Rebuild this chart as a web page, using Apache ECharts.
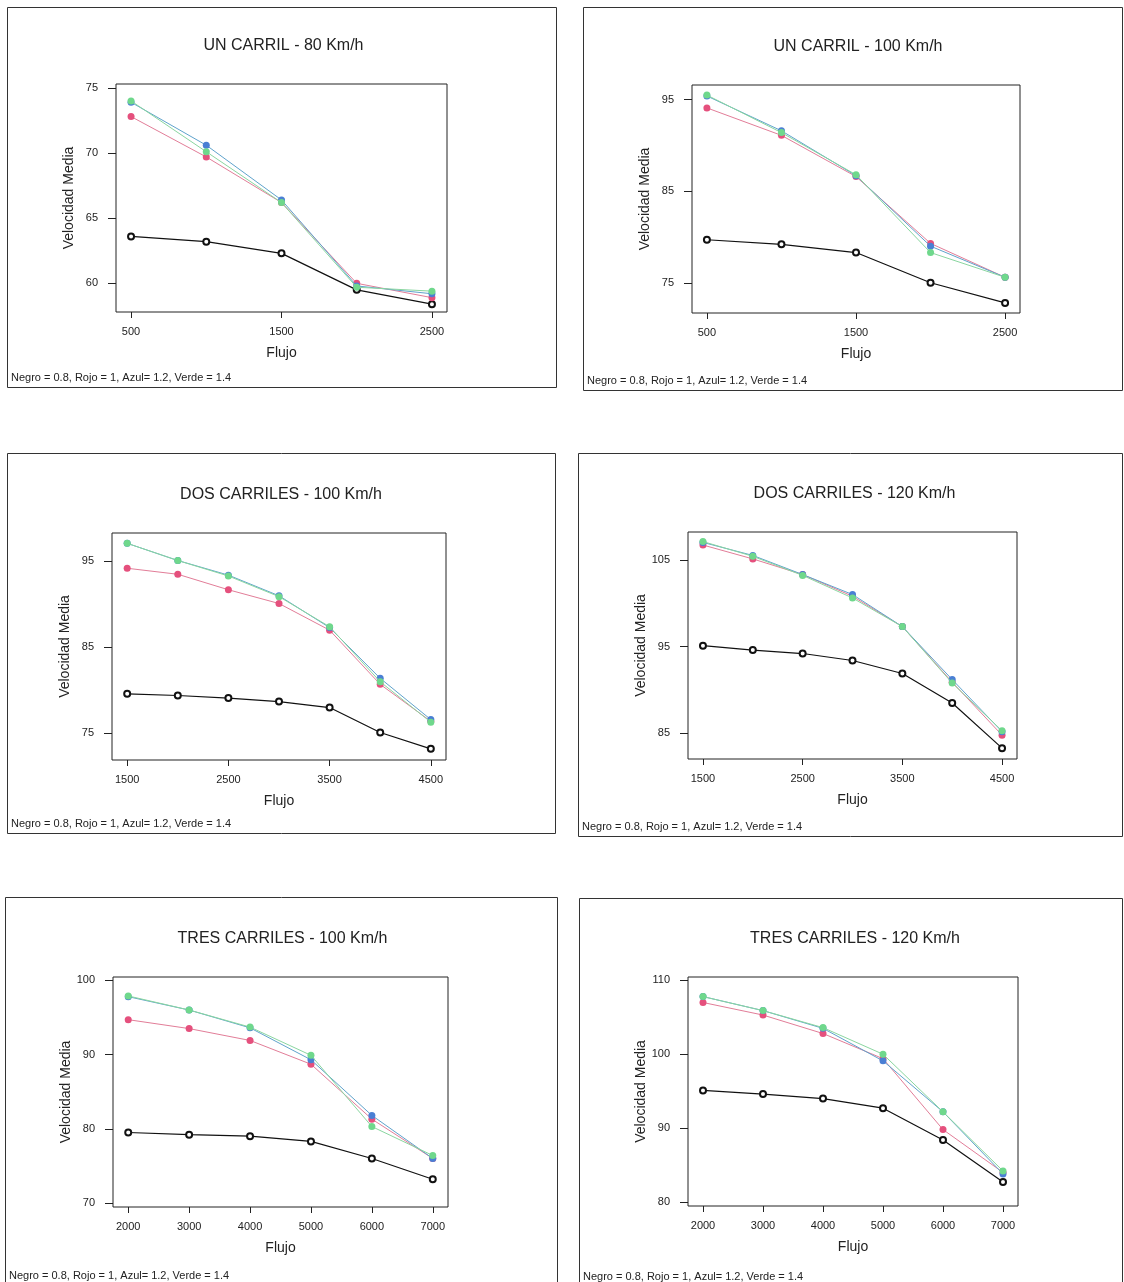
<!DOCTYPE html>
<html>
<head>
<meta charset="utf-8">
<script src="https://cdn.jsdelivr.net/npm/echarts@6/dist/echarts.min.js"></script>
<style>
  html, body { margin: 0; padding: 0; background: #fff; }
  #chart { width: 1124px; height: 1282px; }
</style>
</head>
<body>
<div id="chart"></div>
<script>
// flujo (x) por grupo de carriles
const flujoUno = [500, 1000, 1500, 2000, 2500];
const flujoDos = [1500, 2000, 2500, 3000, 3500, 4000, 4500];
const flujoTres = [2000, 3000, 4000, 5000, 6000, 7000];

// UN CARRIL - 80 Km/h
const un80Negro = [63.6, 63.2, 62.3, 59.5, 58.4];
const un80Rojo  = [72.8, 69.7, 66.2, 60.0, 58.9];
const un80Azul  = [73.9, 70.6, 66.4, 59.8, 59.2];
const un80Verde = [74.0, 70.1, 66.2, 59.7, 59.4];

// UN CARRIL - 100 Km/h
const un100Negro = [79.7, 79.2, 78.3, 75.0, 72.8];
const un100Rojo  = [94.1, 91.1, 86.6, 79.3, 75.6];
const un100Azul  = [95.4, 91.6, 86.7, 79.0, 75.6];
const un100Verde = [95.5, 91.4, 86.8, 78.3, 75.6];

// DOS CARRILES - 100 Km/h
const dos100Negro = [79.6, 79.4, 79.1, 78.7, 78.0, 75.1, 73.2];
const dos100Rojo  = [94.2, 93.5, 91.7, 90.1, 87.0, 80.7, 76.4];
const dos100Azul  = [97.1, 95.1, 93.4, 91.0, 87.3, 81.4, 76.6];
const dos100Verde = [97.1, 95.1, 93.3, 90.9, 87.4, 81.0, 76.3];

// DOS CARRILES - 120 Km/h
const dos120Negro = [95.1, 94.6, 94.2, 93.4, 91.9, 88.5, 83.3];
const dos120Rojo  = [106.7, 105.1, 103.3, 100.8, 97.3, 90.9, 84.8];
const dos120Azul  = [107.0, 105.5, 103.3, 101.0, 97.3, 91.2, 85.2];
const dos120Verde = [107.1, 105.4, 103.2, 100.6, 97.3, 90.8, 85.3];

// TRES CARRILES - 100 Km/h
const tres100Negro = [79.5, 79.2, 79.0, 78.3, 76.0, 73.2];
const tres100Rojo  = [94.7, 93.5, 91.9, 88.7, 81.3, 76.0];
const tres100Azul  = [97.8, 96.0, 93.6, 89.3, 81.8, 76.0];
const tres100Verde = [97.9, 96.0, 93.7, 89.9, 80.3, 76.4];

// TRES CARRILES - 120 Km/h
const tres120Negro = [95.1, 94.6, 94.0, 92.7, 88.4, 82.7];
const tres120Rojo  = [107.0, 105.3, 102.8, 99.4, 89.8, 84.0];
const tres120Azul  = [107.8, 105.9, 103.5, 99.1, 92.2, 83.8];
const tres120Verde = [107.8, 105.9, 103.6, 100.0, 92.2, 84.2];

// marcas de los ejes
const xTicksUno = [500, 1500, 2500];
const xTicksDos = [1500, 2500, 3500, 4500];
const xTicksTres = [2000, 3000, 4000, 5000, 6000, 7000];
const yTicksUn80 = [60, 65, 70, 75];
const yTicksUn100 = [75, 85, 95];
const yTicksDos100 = [75, 85, 95];
const yTicksDos120 = [85, 95, 105];
const yTicksTres100 = [70, 80, 90, 100];
const yTicksTres120 = [80, 90, 100, 110];

const titulos = [
    'UN CARRIL - 80 Km/h', 'UN CARRIL - 100 Km/h',
    'DOS CARRILES - 100 Km/h', 'DOS CARRILES - 120 Km/h',
    'TRES CARRILES - 100 Km/h', 'TRES CARRILES - 120 Km/h'
];
const nota = 'Negro = 0.8, Rojo = 1, Azul= 1.2, Verde = 1.4';

const panels = [
    { flujo: flujoUno, xTicks: xTicksUno, yTicks: yTicksUn80, series: [un80Negro, un80Rojo, un80Azul, un80Verde],
      xMin: 400, xMax: 2600, yMin: 57.8, yMax: 75.3,
      frame: [7, 7, 549, 380], grid: [116, 84, 331, 228] },
    { flujo: flujoUno, xTicks: xTicksUno, yTicks: yTicksUn100, series: [un100Negro, un100Rojo, un100Azul, un100Verde],
      xMin: 400, xMax: 2600, yMin: 71.7, yMax: 96.6,
      frame: [583, 7, 539, 383], grid: [692, 85, 328, 228] },
    { flujo: flujoDos, xTicks: xTicksDos, yTicks: yTicksDos100, series: [dos100Negro, dos100Rojo, dos100Azul, dos100Verde],
      xMin: 1350, xMax: 4650, yMin: 71.9, yMax: 98.3,
      frame: [7, 453, 548, 380], grid: [112, 533, 334, 227] },
    { flujo: flujoDos, xTicks: xTicksDos, yTicks: yTicksDos120, series: [dos120Negro, dos120Rojo, dos120Azul, dos120Verde],
      xMin: 1350, xMax: 4650, yMin: 82.05, yMax: 108.2,
      frame: [578, 453, 544, 383], grid: [688, 532, 329, 227] },
    { flujo: flujoTres, xTicks: xTicksTres, yTicks: yTicksTres100, series: [tres100Negro, tres100Rojo, tres100Azul, tres100Verde],
      xMin: 1750, xMax: 7250, yMin: 69.46, yMax: 100.45,
      frame: [5, 897, 552, 400], grid: [113, 977, 335, 230] },
    { flujo: flujoTres, xTicks: xTicksTres, yTicks: yTicksTres120, series: [tres120Negro, tres120Rojo, tres120Azul, tres120Verde],
      xMin: 1750, xMax: 7250, yMin: 79.46, yMax: 110.45,
      frame: [579, 898, 543, 400], grid: [688, 977, 330, 229] }
];

const estilos = [
    { color: '#111', symbol: 'emptyCircle', size: 6, width: 1.2 },
    { color: '#e5507d', symbol: 'circle', size: 7, width: 1 },
    { color: '#4a7fd4', symbol: 'circle', size: 7, width: 1 },
    { color: '#6fd88c', symbol: 'circle', size: 7, width: 1 }
];
const lineas = ['#111', '#e27d98', '#5fa3cc', '#8ad6a0'];
const fuente = 'Liberation Sans, Arial, sans-serif';

let option = {
    backgroundColor: '#fff',
    animation: false,
    title: [],
    grid: [],
    xAxis: [],
    yAxis: [],
    series: [],
    graphic: []
};

panels.forEach((p, i) => {
    let [gl, gt, gw, gh] = p.grid;
    let [fl, ft, fw, fh] = p.frame;

    option.graphic.push({
        type: 'rect', silent: true,
        shape: { x: fl + 0.5, y: ft + 0.5, width: fw, height: fh },
        style: { fill: 'none', stroke: '#333', lineWidth: 1 }
    });
    option.graphic.push({
        type: 'text', silent: true, left: fl + 4, top: ft + fh - (i > 3 ? 27 : 15),
        style: { text: nota, fontSize: 11, fill: '#222', fontFamily: fuente }
    });

    option.title.push({
        text: titulos[i],
        left: gl + gw / 2 - 3, top: gt - 51, textAlign: 'center',
        textStyle: { fontSize: 16, fontWeight: 'normal', color: '#222', fontFamily: fuente }
    });

    option.grid.push({
        left: gl, top: gt, width: gw, height: gh,
        show: true, borderColor: '#222', borderWidth: 1, backgroundColor: 'transparent'
    });

    option.xAxis.push({
        type: 'value', gridIndex: i, min: p.xMin, max: p.xMax,
        name: 'Flujo', nameLocation: 'middle', nameGap: 34,
        nameTextStyle: { fontSize: 14, color: '#222', fontFamily: fuente },
        axisLine: { show: false },
        axisTick: { show: true, inside: false, length: 6, customValues: p.xTicks, lineStyle: { color: '#222' } },
        axisLabel: { customValues: p.xTicks, margin: 14, fontSize: 11, color: '#222', fontFamily: fuente,
                     formatter: v => String(v) },
        splitLine: { show: false }
    });

    option.yAxis.push({
        type: 'value', gridIndex: i, min: p.yMin, max: p.yMax,
        name: 'Velocidad Media', nameLocation: 'middle', nameGap: 40, nameRotate: 90,
        nameTextStyle: { fontSize: 14, color: '#222', fontFamily: fuente },
        axisLine: { show: false },
        axisTick: { show: true, inside: false, length: 8, customValues: p.yTicks, lineStyle: { color: '#222' } },
        axisLabel: { customValues: p.yTicks, margin: 18, fontSize: 11, color: '#222', fontFamily: fuente,
                     formatter: v => String(v) },
        splitLine: { show: false }
    });

    p.series.forEach((vals, k) => {
        let e = estilos[k];
        option.series.push({
            type: 'line', xAxisIndex: i, yAxisIndex: i,
            data: p.flujo.map((f, j) => [f, vals[j]]),
            symbol: e.symbol, symbolSize: e.size,
            itemStyle: { color: e.color, borderColor: e.color, borderWidth: k == 0 ? 1.5 : 0 },
            lineStyle: { color: lineas[k], width: e.width },
            z: 2 + k
        });
    });
});

let chart = echarts.init(document.getElementById('chart'), null, { renderer: 'canvas' });
chart.setOption(option);
</script>
</body>
</html>
